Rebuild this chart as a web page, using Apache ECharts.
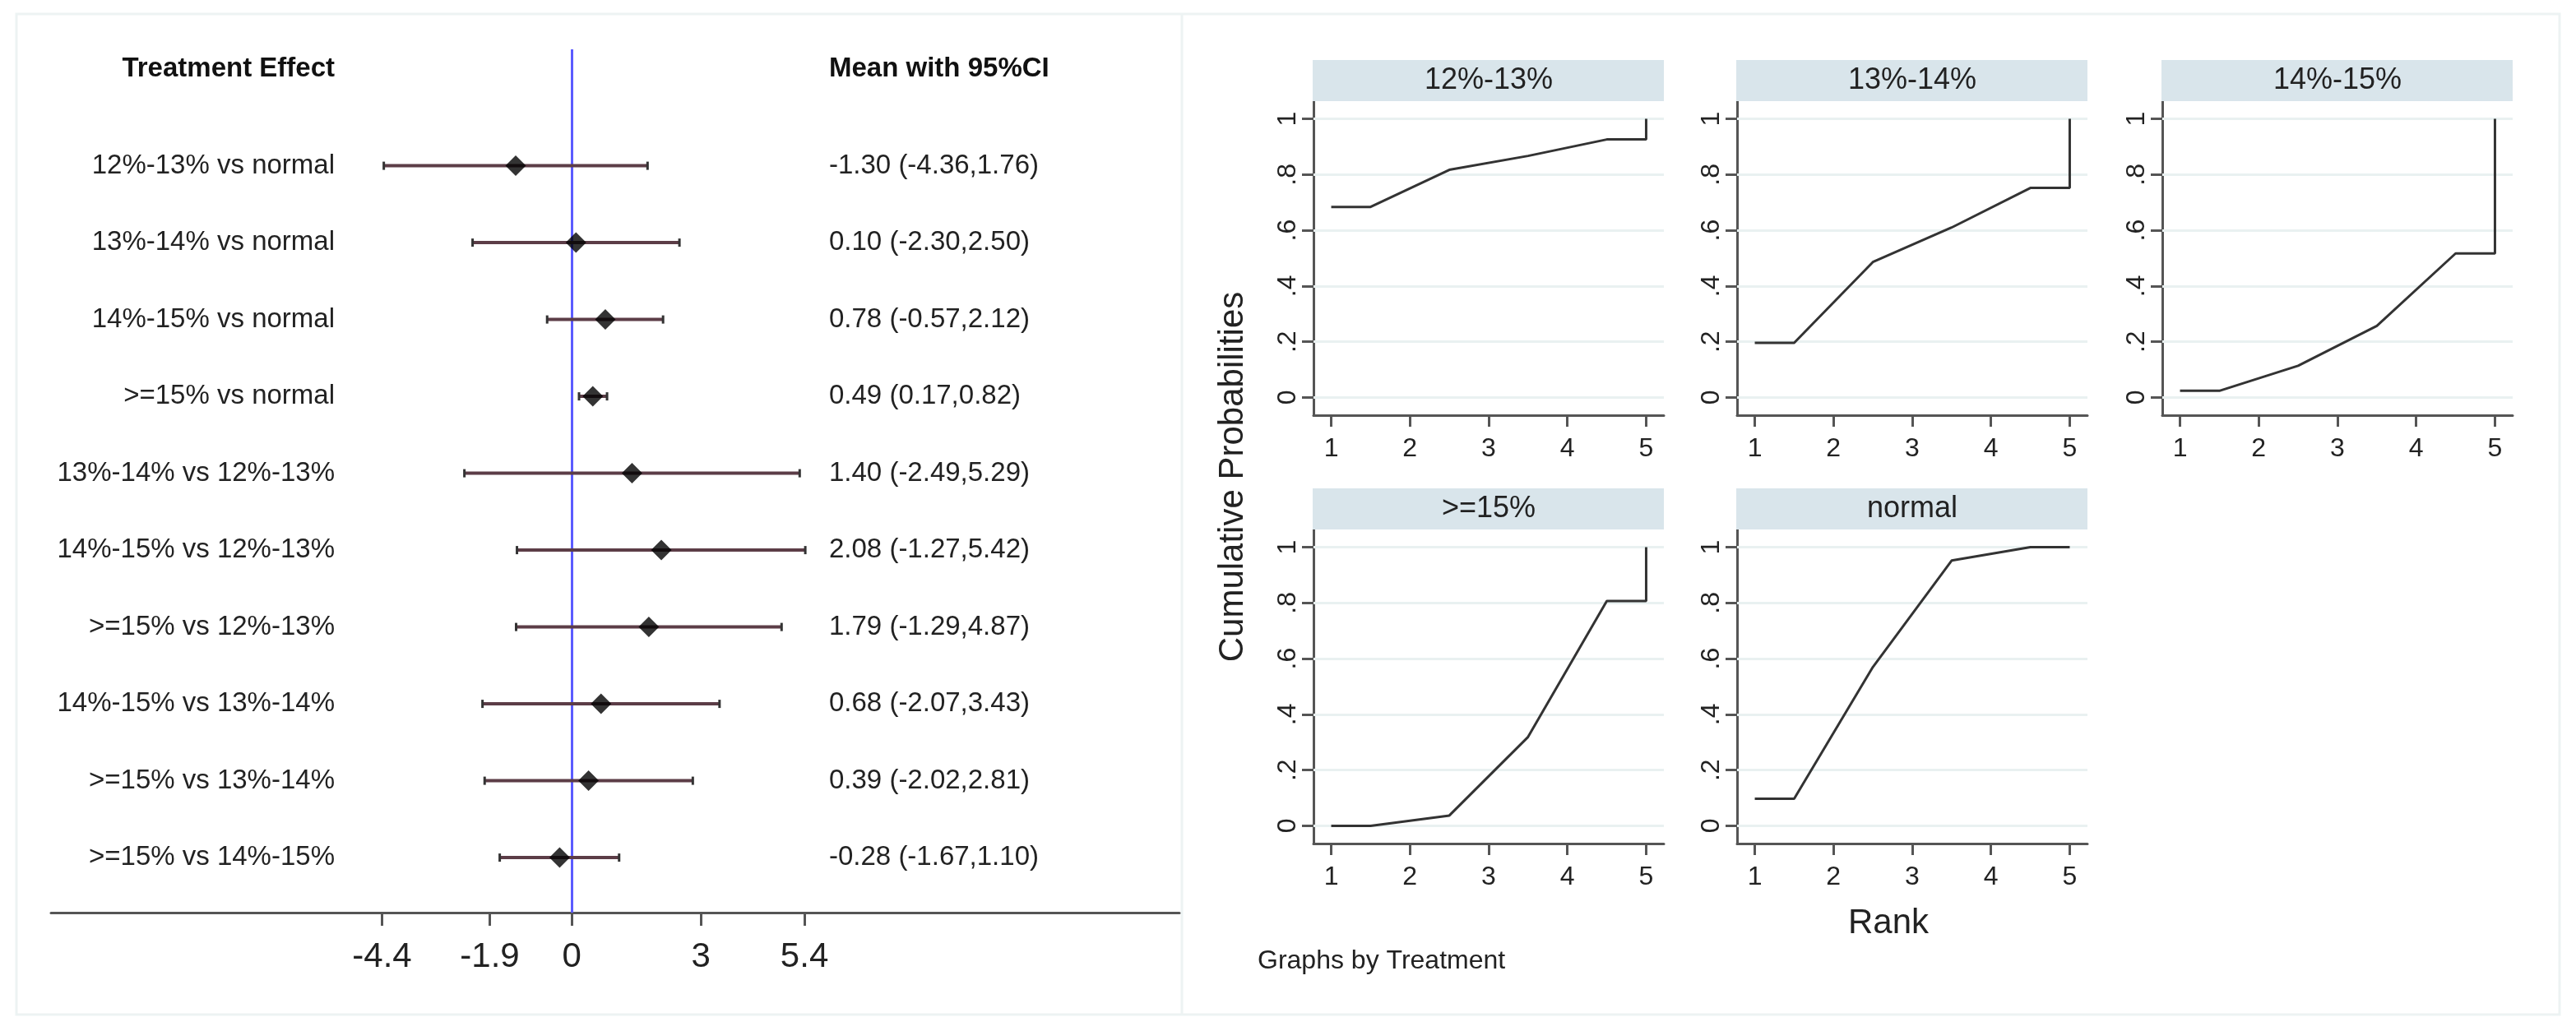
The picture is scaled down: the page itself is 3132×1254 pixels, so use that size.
<!DOCTYPE html>
<html>
<head>
<meta charset="utf-8">
<style>
html,body{margin:0;padding:0;background:#fff;}
#chart{width:3132px;height:1254px;}
</style>
<script src="https://cdn.jsdelivr.net/npm/echarts@6.0.0/dist/echarts.min.js"></script>
</head>
<body>
<div id="chart"></div>
<script>
// ---------------- DATA ----------------
// Forest plot (left)
const rowLabels = [
  '12%-13% vs normal', '13%-14% vs normal', '14%-15% vs normal', '>=15% vs normal',
  '13%-14% vs 12%-13%', '14%-15% vs 12%-13%', '>=15% vs 12%-13%',
  '14%-15% vs 13%-14%', '>=15% vs 13%-14%', '>=15% vs 14%-15%'
];
const means  = [-1.30, 0.10, 0.78, 0.49, 1.40, 2.08, 1.79, 0.68, 0.39, -0.28];
const lowers = [-4.36, -2.30, -0.57, 0.17, -2.49, -1.27, -1.29, -2.07, -2.02, -1.67];
const uppers = [1.76, 2.50, 2.12, 0.82, 5.29, 5.42, 4.87, 3.43, 2.81, 1.10];
const forestTicks = [-4.4, -1.9, 0, 3, 5.4];
const forestHeaderLeft = 'Treatment Effect';
const forestHeaderRight = 'Mean with 95%CI';

// Cumulative ranking plots (right)
const panelTitles = ['12%-13%', '13%-14%', '14%-15%', '>=15%', 'normal'];
const rankPos = [1, 1.5, 2.5, 3.5, 4.5, 5, 5];
const cum_12_13 = [0.684, 0.684, 0.817, 0.867, 0.926, 0.926, 1.0];
const cum_13_14 = [0.196, 0.196, 0.486, 0.610, 0.752, 0.752, 1.0];
const cum_14_15 = [0.024, 0.024, 0.114, 0.257, 0.517, 0.517, 1.0];
const cum_ge15  = [0.000, 0.000, 0.037, 0.319, 0.807, 0.807, 1.0];
const cum_normal = [0.097, 0.097, 0.570, 0.952, 1.000, 1.000, 1.0];
const panelValues = [cum_12_13, cum_13_14, cum_14_15, cum_ge15, cum_normal];
const rankTicks = [1, 2, 3, 4, 5];
const probTicks = [0, 0.2, 0.4, 0.6, 0.8, 1];
const probTickLabels = ['0', '.2', '.4', '.6', '.8', '1'];
const yTitle = 'Cumulative Probabilities';
const xTitle = 'Rank';
const noteText = 'Graphs by Treatment';

// ---------------- LAYOUT ----------------
const FONT = "'Liberation Sans', Arial, Helvetica, sans-serif";
const TXT = '#222';
const AXC = '#555';

// forest geometry
const fX0 = 62, fX1 = 1434, fZeroPx = 695.1, fUnit = 52.4;
const fTop = 60, fBottom = 1110, fRow0 = 201.6, fRowStep = 93.5;
const fMin = (fX0 - fZeroPx) / fUnit, fMax = (fX1 - fZeroPx) / fUnit;
const fyMin = (fTop - fRow0) / fRowStep, fyMax = (fBottom - fRow0) / fRowStep;
const labelRightX = 407, textLeftX = 1008, headerY = 84;

// panel geometry
const colX = [1597, 2112, 2629];
const rowTop = [123, 644];
const pW = 426, pH = 382, stripH = 50;
const panelPos = [[0, 0], [1, 0], [2, 0], [0, 1], [1, 1]];
const xRange = [0.775, 5.225];
const yRange = [-0.0635, 1.0635];

const chart = echarts.init(document.getElementById('chart'), null, {renderer: 'canvas', width: 3132, height: 1254});

const grids = [{left: fX0, top: fTop, width: fX1 - fX0, height: fBottom - fTop}];
const xAxes = [{
  type: 'value', gridIndex: 0, min: fMin, max: fMax,
  axisLine: {show: true, onZero: false, lineStyle: {color: AXC, width: 3}},
  axisTick: {show: true, customValues: forestTicks, length: 16, lineStyle: {color: AXC, width: 3}},
  axisLabel: {show: true, customValues: forestTicks, fontSize: 42, margin: 33, color: TXT, fontFamily: FONT,
              formatter: v => String(v)},
  splitLine: {show: false}
}];
const yAxes = [{type: 'value', gridIndex: 0, inverse: true, min: fyMin, max: fyMax, show: false,
  axisLine: {onZero: false}, splitLine: {show: false}}];

const series = [];
// reference line at 0
series.push({
  type: 'line', xAxisIndex: 0, yAxisIndex: 0, data: [], z: 1, silent: true,
  markLine: {silent: true, z: 1, symbol: ['none', 'none'], label: {show: false},
    lineStyle: {color: '#5b5bff', width: 3, type: 'solid'}, emphasis: {disabled: true},
    data: [{xAxis: 0}]}
});
// confidence intervals
series.push({
  type: 'custom', xAxisIndex: 0, yAxisIndex: 0, z: 3, silent: true,
  data: rowLabels.map((_, i) => [lowers[i], uppers[i], i]),
  encode: {x: [0, 1], y: 2},
  renderItem: (params, api) => {
    const lo = api.coord([api.value(0), api.value(2)]);
    const hi = api.coord([api.value(1), api.value(2)]);
    return {type: 'group', children: [
      {type: 'line', shape: {x1: lo[0], y1: lo[1], x2: hi[0], y2: hi[1]}, style: {stroke: '#5c3d47', lineWidth: 4}},
      {type: 'line', shape: {x1: lo[0], y1: lo[1] - 5, x2: lo[0], y2: lo[1] + 5}, style: {stroke: '#333', lineWidth: 3}},
      {type: 'line', shape: {x1: hi[0], y1: hi[1] - 5, x2: hi[0], y2: hi[1] + 5}, style: {stroke: '#333', lineWidth: 3}}
    ]};
  }
});
// point estimates
series.push({
  type: 'scatter', xAxisIndex: 0, yAxisIndex: 0, z: 4, silent: true,
  symbol: 'diamond', symbolSize: 25, itemStyle: {color: '#000'},
  data: means.map((m, i) => [m, i])
});
// row labels and text column
series.push({
  type: 'custom', xAxisIndex: 0, yAxisIndex: 0, z: 4, silent: true,
  data: rowLabels.map((_, i) => [0, i]),
  encode: {x: 0, y: 1},
  renderItem: (params, api) => {
    const i = params.dataIndex;
    const y = api.coord([0, api.value(1)])[1];
    const txt = means[i].toFixed(2) + ' (' + lowers[i].toFixed(2) + ',' + uppers[i].toFixed(2) + ')';
    return {type: 'group', children: [
      {type: 'text', style: {text: rowLabels[i], x: labelRightX, y: y, fill: TXT, fontSize: 33, fontFamily: FONT, align: 'right', verticalAlign: 'middle'}},
      {type: 'text', style: {text: txt, x: textLeftX, y: y, fill: TXT, fontSize: 33, fontFamily: FONT, align: 'left', verticalAlign: 'middle'}}
    ]};
  }
});

const graphics = [
  {type: 'rect', shape: {x: 20, y: 17, width: 3092, height: 1217}, style: {fill: 'none', stroke: '#edf3f3', lineWidth: 3}, z: 0},
  {type: 'line', shape: {x1: 1437, y1: 17, x2: 1437, y2: 1234}, style: {stroke: '#edf3f3', lineWidth: 3}, z: 0},
  {type: 'text', style: {text: forestHeaderLeft, x: labelRightX, y: headerY, fill: '#111', fontSize: 33, fontWeight: 'bold', fontFamily: FONT, align: 'right', verticalAlign: 'middle'}},
  {type: 'text', style: {text: forestHeaderRight, x: textLeftX, y: headerY, fill: '#111', fontSize: 33, fontWeight: 'bold', fontFamily: FONT, align: 'left', verticalAlign: 'middle'}},
  {type: 'text', rotation: Math.PI / 2, x: 1499, y: 580, style: {text: yTitle, x: 0, y: 0, fill: TXT, fontSize: 42, fontFamily: FONT, align: 'center', verticalAlign: 'middle'}},
  {type: 'text', style: {text: xTitle, x: 2296, y: 1123, fill: TXT, fontSize: 42, fontFamily: FONT, align: 'center', verticalAlign: 'middle'}},
  {type: 'text', style: {text: noteText, x: 1529, y: 1169, fill: TXT, fontSize: 32, fontFamily: FONT, align: 'left', verticalAlign: 'middle'}}
];

panelTitles.forEach((title, p) => {
  const gi = p + 1;
  const left = colX[panelPos[p][0]];
  const top = rowTop[panelPos[p][1]];
  grids.push({left: left, top: top, width: pW, height: pH});
  xAxes.push({
    type: 'value', gridIndex: gi, min: xRange[0], max: xRange[1],
    axisLine: {show: true, onZero: false, lineStyle: {color: AXC, width: 3}},
    axisTick: {show: true, customValues: rankTicks, length: 14, lineStyle: {color: AXC, width: 3}},
    axisLabel: {show: true, customValues: rankTicks, fontSize: 32, margin: 25, color: TXT, fontFamily: FONT},
    splitLine: {show: false}
  });
  yAxes.push({
    type: 'value', gridIndex: gi, min: yRange[0], max: yRange[1],
    axisLine: {show: true, onZero: false, lineStyle: {color: AXC, width: 3}},
    axisTick: {show: true, customValues: probTicks, length: 14, lineStyle: {color: AXC, width: 3}},
    axisLabel: {show: true, customValues: probTicks, rotate: 90, fontSize: 32, margin: 15, color: TXT, fontFamily: FONT,
      formatter: v => { const k = probTicks.findIndex(t => Math.abs(t - v) < 1e-9); return k >= 0 ? probTickLabels[k] : String(v); }},
    splitLine: {show: false}
  });
  series.push({
    type: 'line', xAxisIndex: gi, yAxisIndex: gi, data: [], z: 1, silent: true,
    markLine: {silent: true, z: 1, symbol: ['none', 'none'], label: {show: false}, emphasis: {disabled: true},
      lineStyle: {color: '#e9f1f1', width: 3, type: 'solid'},
      data: probTicks.map(v => ({yAxis: v}))}
  });
  series.push({
    type: 'line', xAxisIndex: gi, yAxisIndex: gi, z: 6, silent: true,
    showSymbol: false, symbol: 'none',
    lineStyle: {color: '#333', width: 3},
    data: rankPos.map((x, k) => [x, panelValues[p][k]])
  });
  graphics.push({type: 'rect', shape: {x: left - 1, y: top - stripH, width: pW + 1, height: stripH}, style: {fill: '#d9e5eb'}, z: 1});
  graphics.push({type: 'text', style: {text: title, x: left + pW / 2, y: top - stripH / 2, fill: TXT, fontSize: 36, fontFamily: FONT, align: 'center', verticalAlign: 'middle'}, z: 2});
});

chart.setOption({
  animation: false,
  backgroundColor: '#ffffff',
  textStyle: {fontFamily: FONT},
  grid: grids,
  xAxis: xAxes,
  yAxis: yAxes,
  series: series,
  graphic: graphics
});
</script>
</body>
</html>
